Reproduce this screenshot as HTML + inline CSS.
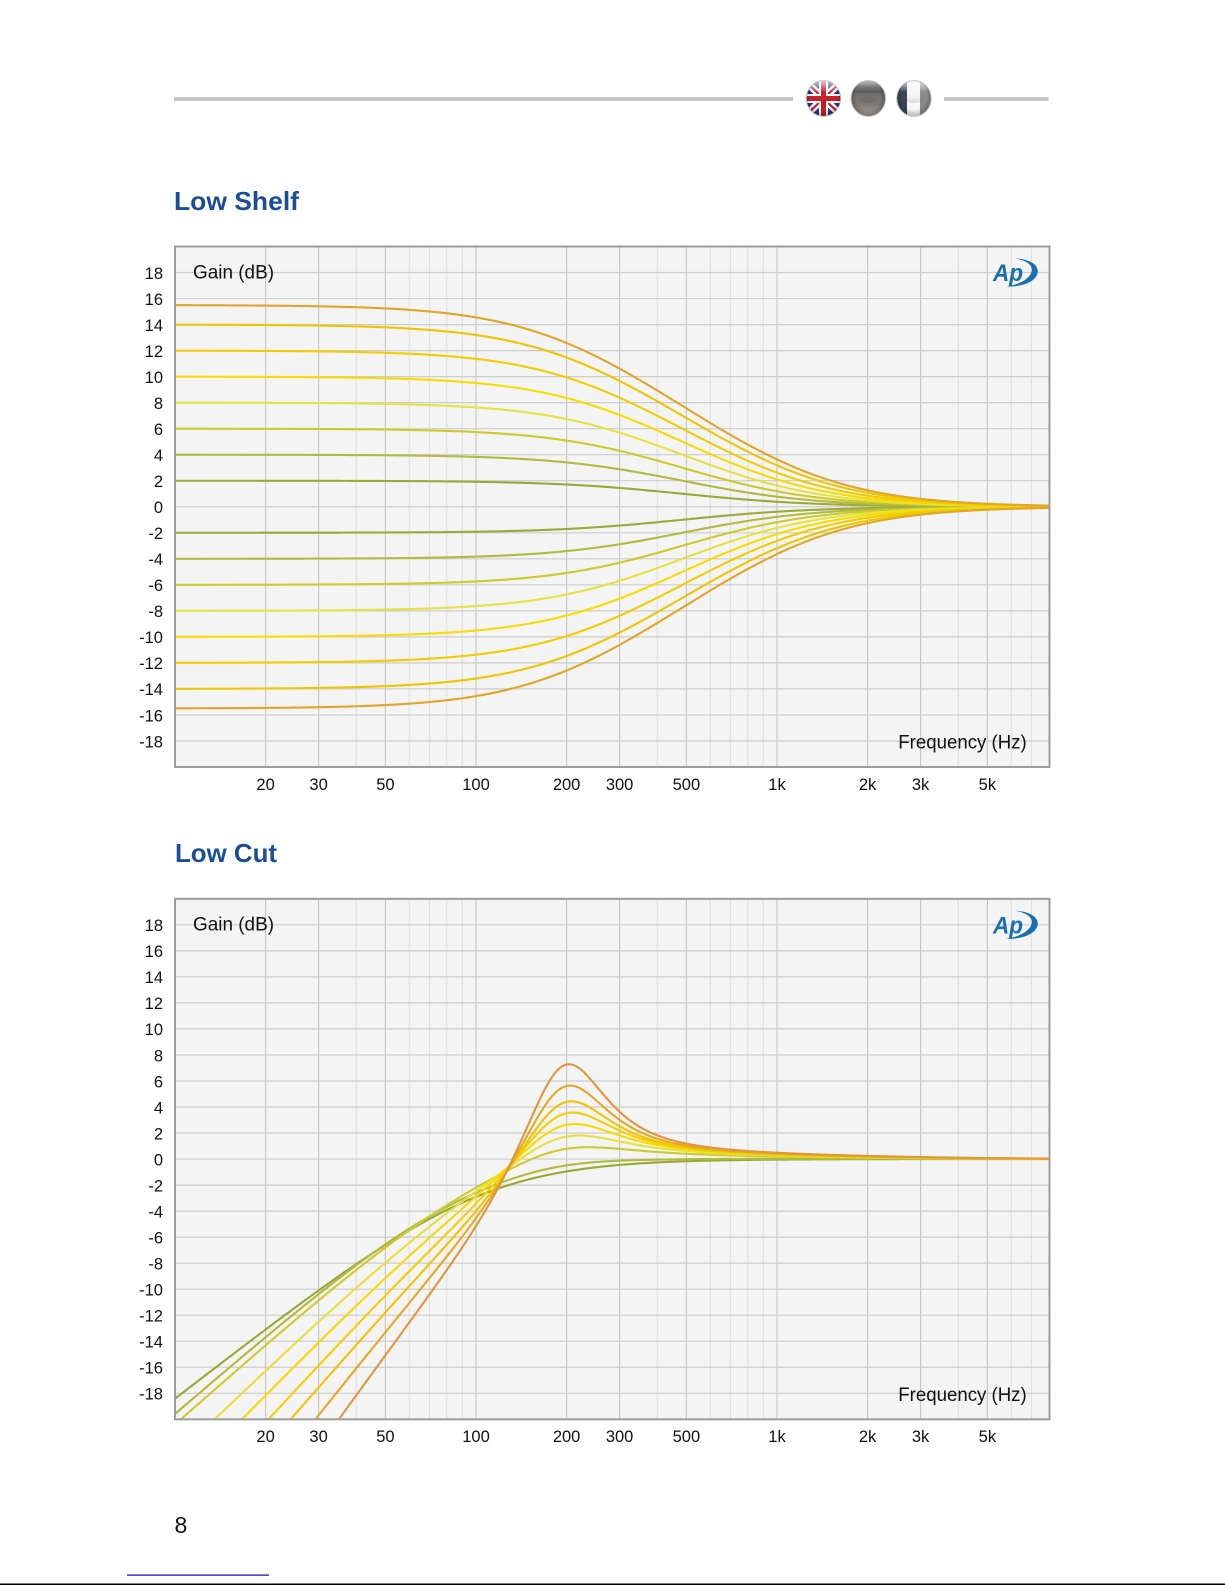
<!DOCTYPE html>
<html>
<head>
<meta charset="utf-8">
<style>
html,body{margin:0;padding:0;background:#fff;width:1225px;height:1585px;overflow:hidden}
svg{position:absolute;left:0;top:0;display:block}
text{font-family:"Liberation Sans",Arial,sans-serif;fill:#111}
.t{font-size:16.5px}
.ttl{font-family:"Liberation Sans",Arial,sans-serif;font-weight:bold;font-size:26px;fill:#1b4e98}
</style>
</head>
<body>
<svg width="1225" height="1585" viewBox="0 0 1225 1585" xmlns="http://www.w3.org/2000/svg">
<defs>
  <linearGradient id="gloss" x1="0" y1="0" x2="0" y2="1">
    <stop offset="0" stop-color="#fff" stop-opacity="0.75"/>
    <stop offset="0.42" stop-color="#fff" stop-opacity="0.15"/>
    <stop offset="0.5" stop-color="#fff" stop-opacity="0"/>
    <stop offset="1" stop-color="#000" stop-opacity="0.12"/>
  </linearGradient>
  <linearGradient id="grayball" x1="0" y1="0" x2="0" y2="1">
    <stop offset="0" stop-color="#111"/>
    <stop offset="0.2" stop-color="#2e2e2e"/>
    <stop offset="0.36" stop-color="#6a6a6a"/>
    <stop offset="0.65" stop-color="#7c7874"/>
    <stop offset="1" stop-color="#aaa49a"/>
  </linearGradient>
  <radialGradient id="shade" cx="0.5" cy="0.45" r="0.6">
    <stop offset="0.6" stop-color="#000" stop-opacity="0"/>
    <stop offset="1" stop-color="#000" stop-opacity="0.35"/>
  </radialGradient>
  <clipPath id="fk"><ellipse cx="823.5" cy="98.5" rx="17.3" ry="18"/></clipPath>
  <clipPath id="fr"><ellipse cx="914" cy="98.5" rx="17.3" ry="18"/></clipPath>
  <clipPath id="clip1"><rect x="176" y="247.5" width="872.5" height="518.5"/></clipPath>
  <clipPath id="clip2"><rect x="176" y="899.8" width="872.5" height="518.5"/></clipPath>
</defs>

<!-- Header -->
<rect x="174" y="97" width="619" height="4" fill="#c6c6c6"/>
<rect x="944" y="97" width="104.5" height="4" fill="#c6c6c6"/>

<!-- UK ball -->
<g clip-path="url(#fk)">
  <rect x="800" y="78" width="48" height="42" fill="#283a8a"/>
  <path d="M804 80L843 117M843 80L804 117" stroke="#fff" stroke-width="7"/>
  <path d="M804 80L843 117M843 80L804 117" stroke="#c8202a" stroke-width="2.2"/>
  <path d="M823.5 78V120M800 98.5H848" stroke="#fff" stroke-width="9"/>
  <path d="M823.5 78V120M800 98.5H848" stroke="#c8202a" stroke-width="5"/>
  <ellipse cx="823.5" cy="98.5" rx="17.3" ry="18" fill="url(#shade)"/>
  <ellipse cx="823.5" cy="92" rx="14" ry="11" fill="url(#gloss)"/>
</g>
<ellipse cx="823.5" cy="98.5" rx="17.3" ry="18" fill="none" stroke="#c9c9c9" stroke-width="1"/>

<!-- Gray ball -->
<ellipse cx="868.3" cy="98.5" rx="17.3" ry="18" fill="url(#grayball)"/>
<ellipse cx="868.3" cy="98.5" rx="17.3" ry="18" fill="url(#shade)"/>
<ellipse cx="868.3" cy="92" rx="14" ry="11" fill="url(#gloss)"/>
<ellipse cx="868.3" cy="98.5" rx="17.3" ry="18" fill="none" stroke="#c9c9c9" stroke-width="1"/>

<!-- French ball (gray) -->
<g clip-path="url(#fr)">
  <rect x="895" y="78" width="14" height="42" fill="#3c4254"/>
  <rect x="907" y="78" width="13" height="42" fill="#f6f6f6"/>
  <rect x="920" y="78" width="14" height="42" fill="#8a8a8a"/>
  <ellipse cx="914" cy="98.5" rx="17.3" ry="18" fill="url(#shade)"/>
  <ellipse cx="914" cy="92" rx="14" ry="11" fill="url(#gloss)"/>
</g>
<ellipse cx="914" cy="98.5" rx="17.3" ry="18" fill="none" stroke="#c9c9c9" stroke-width="1"/>

<!-- Titles -->
<text class="ttl" x="174" y="210" textLength="125" lengthAdjust="spacingAndGlyphs">Low Shelf</text>
<text class="ttl" x="175" y="862" textLength="102" lengthAdjust="spacingAndGlyphs">Low Cut</text>

<!-- Chart 1 frame/grid -->
<g id="grid1">
  <rect x="175" y="246.5" width="874.5" height="520.5" fill="#f4f4f4"/>
  <path fill="none" stroke="#dedede" stroke-width="1"
    d="M356.2 246.5V767M409.2 246.5V767M429.4 246.5V767M446.8 246.5V767M462.2 246.5V767M657.2 246.5V767M710.2 246.5V767M730.4 246.5V767M747.8 246.5V767M763.2 246.5V767M958.2 246.5V767M1011.2 246.5V767M1031.4 246.5V767"/>
  <path fill="none" stroke="#c8c8c8" stroke-width="1.2"
    d="M265.6 246.5V767M318.6 246.5V767M385.4 246.5V767M476 246.5V767M566.6 246.5V767M619.6 246.5V767M686.4 246.5V767M777 246.5V767M867.6 246.5V767M920.6 246.5V767M987.4 246.5V767"/>
  <path fill="none" stroke="#cdcdcd" stroke-width="1.2"
    d="M175 272.5H1049.5M175 298.55H1049.5M175 324.6H1049.5M175 350.6H1049.5M175 376.6H1049.5M175 402.65H1049.5M175 428.7H1049.5M175 454.7H1049.5M175 480.7H1049.5M175 506.75H1049.5M175 532.8H1049.5M175 558.8H1049.5M175 584.8H1049.5M175 610.85H1049.5M175 636.9H1049.5M175 662.9H1049.5M175 688.9H1049.5M175 714.95H1049.5M175 741H1049.5"/>
</g>
<use href="#grid1" transform="translate(0 652.3)"/>

<!-- Curves -->
<g id="c1" fill="none" stroke-width="2.1" stroke-linejoin="round" stroke-linecap="round" clip-path="url(#clip1)"></g>
<g id="c2" fill="none" stroke-width="2.1" stroke-linejoin="round" stroke-linecap="round" clip-path="url(#clip2)"></g>

<!-- Borders -->
<rect x="175" y="246.5" width="874.5" height="520.5" fill="none" stroke="#9c9c9c" stroke-width="2"/>
<rect x="175" y="898.8" width="874.5" height="520.5" fill="none" stroke="#9c9c9c" stroke-width="2"/>

<!-- AP logos -->
<g>
  <path d="M1015 258.5C1033 259 1043 268 1035 278C1030 284 1018 287 1006 286.5C1019 284.5 1029 279.5 1031.5 272C1033.5 265.5 1027 260.5 1015 258.5Z" fill="#1a6fb0"/>
  <text x="993" y="281" style="font-family:'Liberation Sans',Arial,sans-serif;font-style:italic;font-weight:bold;font-size:24px;fill:#1a6fb0" textLength="30" lengthAdjust="spacingAndGlyphs">Ap</text>
</g>
<g>
  <path d="M1015 910.8C1033 911.3 1043 920.3 1035 930.3C1030 936.3 1018 939.3 1006 938.8C1019 936.8 1029 931.8 1031.5 924.3C1033.5 917.8 1027 912.8 1015 910.8Z" fill="#1a6fb0"/>
  <text x="993" y="933.3" style="font-family:'Liberation Sans',Arial,sans-serif;font-style:italic;font-weight:bold;font-size:24px;fill:#1a6fb0" textLength="30" lengthAdjust="spacingAndGlyphs">Ap</text>
</g>

<!-- Chart 1 labels -->
<text x="193" y="278.3" style="font-size:19px" textLength="81" lengthAdjust="spacingAndGlyphs">Gain (dB)</text>
<text x="898.3" y="748.7" style="font-size:19px" textLength="128.4" lengthAdjust="spacingAndGlyphs">Frequency (Hz)</text>
<g class="t" text-anchor="end">
  <text x="163" y="278.8">18</text>
  <text x="163" y="304.85">16</text>
  <text x="163" y="330.9">14</text>
  <text x="163" y="356.9">12</text>
  <text x="163" y="382.9">10</text>
  <text x="163" y="408.95">8</text>
  <text x="163" y="435">6</text>
  <text x="163" y="461">4</text>
  <text x="163" y="487">2</text>
  <text x="163" y="513.05">0</text>
  <text x="163" y="539.1">-2</text>
  <text x="163" y="565.1">-4</text>
  <text x="163" y="591.1">-6</text>
  <text x="163" y="617.15">-8</text>
  <text x="163" y="643.2">-10</text>
  <text x="163" y="669.2">-12</text>
  <text x="163" y="695.2">-14</text>
  <text x="163" y="721.25">-16</text>
  <text x="163" y="747.3">-18</text>
</g>
<g class="t" text-anchor="middle">
  <text x="265.6" y="790">20</text>
  <text x="318.6" y="790">30</text>
  <text x="385.4" y="790">50</text>
  <text x="476" y="790">100</text>
  <text x="566.6" y="790">200</text>
  <text x="619.6" y="790">300</text>
  <text x="686.4" y="790">500</text>
  <text x="777" y="790">1k</text>
  <text x="867.6" y="790">2k</text>
  <text x="920.6" y="790">3k</text>
  <text x="987.4" y="790">5k</text>
</g>

<!-- Chart 2 labels -->
<text x="193" y="930.6" style="font-size:19px" textLength="81" lengthAdjust="spacingAndGlyphs">Gain (dB)</text>
<text x="898.3" y="1401" style="font-size:19px" textLength="128.4" lengthAdjust="spacingAndGlyphs">Frequency (Hz)</text>
<g class="t" text-anchor="end">
  <text x="163" y="931.1">18</text>
  <text x="163" y="957.15">16</text>
  <text x="163" y="983.2">14</text>
  <text x="163" y="1009.2">12</text>
  <text x="163" y="1035.2">10</text>
  <text x="163" y="1061.25">8</text>
  <text x="163" y="1087.3">6</text>
  <text x="163" y="1113.3">4</text>
  <text x="163" y="1139.3">2</text>
  <text x="163" y="1165.35">0</text>
  <text x="163" y="1191.4">-2</text>
  <text x="163" y="1217.4">-4</text>
  <text x="163" y="1243.4">-6</text>
  <text x="163" y="1269.45">-8</text>
  <text x="163" y="1295.5">-10</text>
  <text x="163" y="1321.5">-12</text>
  <text x="163" y="1347.5">-14</text>
  <text x="163" y="1373.55">-16</text>
  <text x="163" y="1399.6">-18</text>
</g>
<g class="t" text-anchor="middle">
  <text x="265.6" y="1442">20</text>
  <text x="318.6" y="1442">30</text>
  <text x="385.4" y="1442">50</text>
  <text x="476" y="1442">100</text>
  <text x="566.6" y="1442">200</text>
  <text x="619.6" y="1442">300</text>
  <text x="686.4" y="1442">500</text>
  <text x="777" y="1442">1k</text>
  <text x="867.6" y="1442">2k</text>
  <text x="920.6" y="1442">3k</text>
  <text x="987.4" y="1442">5k</text>
</g>

<!-- Footer -->
<text x="174.5" y="1533" style="font-size:23px">8</text>
<rect x="127" y="1574.5" width="142" height="1.2" fill="#0000cc"/>
<rect x="0" y="1583.5" width="1225" height="1.5" fill="#000"/>
</svg>

<script>
(function(){
  var NS='http://www.w3.org/2000/svg';
  function X(f){return 175+301*Math.log10(f/10);}
  function build(fn,y0){
    var d='';
    for(var i=0;i<=600;i++){
      var L=1+i*2.91/600;
      var f=Math.pow(10,L);
      var y=y0-13.0125*fn(f);
      d+=(i?'L':'M')+X(f).toFixed(2)+' '+y.toFixed(2);
    }
    return d;
  }
  function add(g,d,c){
    var p=document.createElementNS(NS,'path');
    p.setAttribute('d',d);
    p.setAttribute('stroke',c);
    g.appendChild(p);
  }
  var g1=document.getElementById('c1'), g2=document.getElementById('c2');
  var shelf=[[2,'#9aaa34'],[4,'#b4ba3e'],[6,'#cccb2a'],[8,'#e6e240'],[10,'#f8dc00'],[12,'#f2cc00'],[14,'#eec600'],[15.5,'#e0a628']];
  shelf.forEach(function(s){
    var G=Math.pow(10,s[0]/20), fc=485/Math.sqrt(G);
    var fn=function(f){return 10*Math.log10((f*f+G*G*fc*fc)/(f*f+fc*fc));};
    add(g1,build(fn,506.75),s[1]);
    add(g1,build(function(f){return -fn(f);},506.75),s[1]);
  });
  var cut=[
    [0.9,105,0,1,'#98a834'],
    [1.0,95,0.4,1.0,'#b2ba3c'],
    [1.02,100,1.78,0.95,'#cccc2c'],
    [1.1,110,3.0,0.85,'#e6e03c'],
    [1.17,120,4.2,0.78,'#f8da00'],
    [1.25,130,5.45,0.72,'#f5cf00'],
    [1.32,140,6.7,0.68,'#f0c400'],
    [1.45,145,8.3,0.65,'#e2aa24'],
    [1.6,150,10.4,0.62,'#e0963c']
  ];
  cut.forEach(function(c){
    var n=c[0],fc=c[1],B=c[2],w=c[3];
    var fn=function(f){
      var u=(f/fc)*(f/fc);
      var d=Math.log(f/195)/Math.LN2;
      var b=B/(1+(d/w)*(d/w))*Math.exp(-Math.pow(d/5,4));
      return n*10*Math.log10(u/(1+u))+b;
    };
    add(g2,build(fn,1159.05),c[4]);
  });
})();
</script>
</body>
</html>
